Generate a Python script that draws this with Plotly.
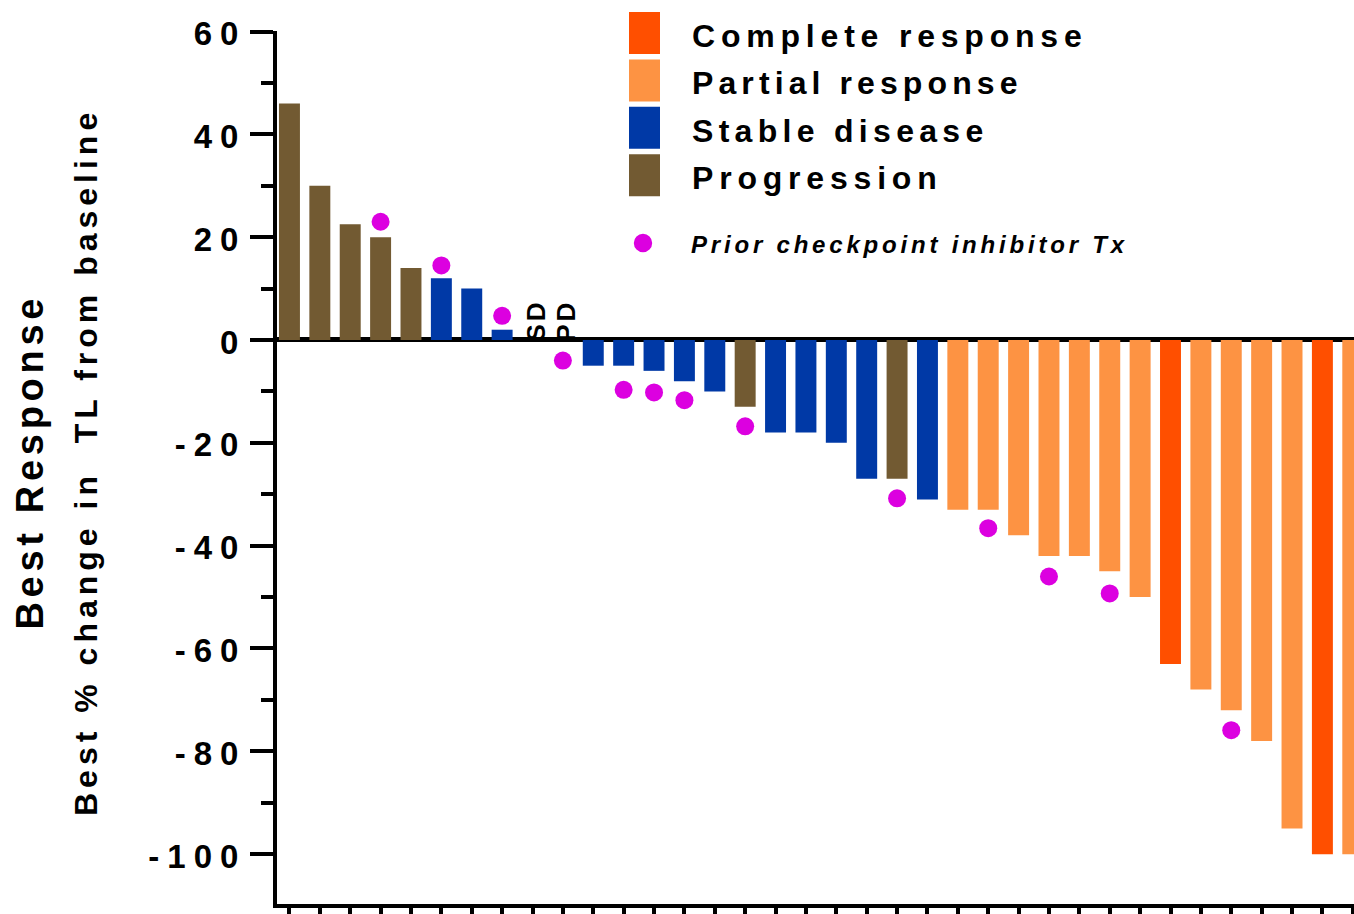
import json
import plotly.graph_objects as go

# ---------------- data ----------------
patients = list(range(1, 37))
best_response = ["PD", "PD", "PD", "PD", "PD", "SD", "SD", "SD", "SD", "PD",
                 "SD", "SD", "SD", "SD", "SD", "PD", "SD", "SD", "SD", "SD",
                 "PD", "SD", "PR", "PR", "PR", "PR", "PR", "PR", "PR", "CR",
                 "PR", "PR", "PR", "PR", "CR", "PR"]
pct_change = [46, 30, 22.5, 20, 14, 12, 10, 2, 0, 0,
              -5, -5, -6, -8, -10, -13, -18, -18, -20, -27,
              -27, -31, -33, -33, -38, -42, -42, -45, -50, -63,
              -68, -72, -78, -95, -100, -100]
# patients with no measurable change, labelled with their response
zero_label_patients = [9, 10]
zero_labels = ["SD", "PD"]

prior_cpi_patients = [4, 6, 8, 10, 12, 13, 14, 16, 21, 24, 26, 28, 32]
prior_cpi_marker_y = [23, 14.5, 4.7, -4, -9.7, -10.2, -11.7, -16.8, -30.8, -36.6, -46, -49.3, -75.9]

legend_codes = ["CR", "PR", "SD", "PD"]
legend_labels = ["Complete response", "Partial response", "Stable disease", "Progression"]
legend_colors = ["#FF4F00", "#FD9343", "#0039A6", "#725A32"]
dot_label = "Prior checkpoint inhibitor Tx"
dot_color = "#DC00E0"

y_tickvals = [60, 40, 20, 0, -20, -40, -60, -80, -100]
y_ticktext = ["60", "40", "20", "0", "-20", "-40", "-60", "-80", "-100"]
y_title_1 = "Best Response"
y_title_2 = "Best % change in  TL from baseline"

# ---------------- layout geometry ----------------
W, H = 1354, 914
L, R, T, B = 277, 0, 31, 10
PW, PH = W - L - R, H - T - B


def px(x):
    return (x - L) / PW


def py(y):
    return (H - B - y) / PH


FONT = "Liberation Sans, Arial, Helvetica, sans-serif"

fig = go.Figure()

for code, label, color in zip(legend_codes, legend_labels, legend_colors):
    xs = [p for p, r, v in zip(patients, best_response, pct_change) if r == code and v != 0]
    ys = [v for p, r, v in zip(patients, best_response, pct_change) if r == code and v != 0]
    fig.add_trace(go.Bar(x=xs, y=ys, name=label, width=0.69,
                         marker=dict(color=color, line=dict(width=0)),
                         showlegend=False, hoverinfo="skip"))

fig.add_trace(go.Scatter(x=prior_cpi_patients, y=prior_cpi_marker_y, mode="markers",
                         name=dot_label, showlegend=False, hoverinfo="skip",
                         marker=dict(color=dot_color, size=18, line=dict(width=0))))

annotations = []
spacing = []

# SD / PD labels on zero-change patients
for p, t in zip(zero_label_patients, zero_labels):
    annotations.append(dict(x=p, y=0, xref="x", yref="y", text=t, textangle=-90,
                            showarrow=False, xanchor="center", yanchor="bottom",
                            xshift=3, yshift=-1,
                            font=dict(family=FONT, size=26, color="black", weight="bold")))
    spacing.append("3px")

# axis titles
annotations.append(dict(x=px(30), y=py(462), xref="paper", yref="paper", text=y_title_1,
                        textangle=-90, showarrow=False, xanchor="center", yanchor="middle",
                        font=dict(family=FONT, size=38, color="black", weight="bold")))
spacing.append("4.7px")
annotations.append(dict(x=px(86), y=py(462), xref="paper", yref="paper", text=y_title_2,
                        textangle=-90, showarrow=False, xanchor="center", yanchor="middle",
                        font=dict(family=FONT, size=32, color="black", weight="bold")))
spacing.append("5px")

# legend (drawn manually to match the large swatches)
legend_spacing = ["5.8px", "5.1px", "5.3px", "5.8px"]
shapes = []
sw_x0, sw_x1 = 629, 660
row_top0, row_pitch, sw_h = 12, 47.4, 42
for i, (label, color) in enumerate(zip(legend_labels, legend_colors)):
    top = row_top0 + i * row_pitch
    shapes.append(dict(type="rect", xref="paper", yref="paper",
                       x0=px(sw_x0), x1=px(sw_x1), y0=py(top + sw_h), y1=py(top),
                       fillcolor=color, line=dict(width=0), layer="above"))
    annotations.append(dict(x=px(690), y=py(top + sw_h / 2 + 3), xref="paper", yref="paper",
                            text=label, showarrow=False, xanchor="left", yanchor="middle",
                            align="left",
                            font=dict(family=FONT, size=32, color="black", weight="bold")))
    spacing.append(legend_spacing[i])

shapes.append(dict(type="circle", xref="paper", yref="paper",
                   x0=px(643 - 9.2), x1=px(643 + 9.2), y0=py(243 + 9.2), y1=py(243 - 9.2),
                   fillcolor=dot_color, line=dict(width=0), layer="above"))
annotations.append(dict(x=px(689), y=py(244), xref="paper", yref="paper", text=dot_label,
                        showarrow=False, xanchor="left", yanchor="middle", align="left",
                        font=dict(family=FONT, size=24, color="black", weight="bold",
                                  style="italic")))
spacing.append("3.8px")

fig.update_layout(
    width=W, height=H,
    margin=dict(l=L, r=R, t=T, b=B, pad=0),
    template="none",
    paper_bgcolor="white", plot_bgcolor="white",
    barmode="overlay",
    showlegend=False,
    annotations=annotations,
    shapes=shapes,
    xaxis=dict(range=[0.59, 36.04], tickmode="array", tickvals=patients,
               showticklabels=False, ticks="outside", ticklen=10, tickwidth=3.5,
               tickcolor="black", showline=True, linewidth=4, linecolor="black",
               showgrid=False, zeroline=False, automargin=False, fixedrange=True),
    yaxis=dict(range=[-109.7, 60.1], tickmode="array", tickvals=y_tickvals,
               ticktext=y_ticktext, ticks="outside", ticklen=23, tickwidth=4,
               tickcolor="black", showline=True, linewidth=4, linecolor="black",
               showgrid=False, zeroline=True, zerolinewidth=5, zerolinecolor="black",
               tickfont=dict(family=FONT, size=33, color="black", weight="bold"),
               ticklabelstandoff=-3,
               minor=dict(tickmode="linear", tick0=0, dtick=10, ticks="outside",
                          ticklen=12, tickwidth=4, tickcolor="black", showgrid=False),
               automargin=False, fixedrange=True),
)

post = """
document.body.style.margin = '0';
document.body.style.overflow = 'hidden';
var gd = document.getElementById('{plot_id}');
var LS = %s;
gd.querySelectorAll('g.ytick').forEach(function(g){
  g.setAttribute('transform', 'translate(0,2)');
  var t = g.querySelector('text');
  if (t) { t.style.letterSpacing = '8px'; }
});
gd.querySelectorAll('g.annotation').forEach(function(g){
  var i = parseInt(g.getAttribute('data-index'));
  var t = g.querySelector('text');
  if (t && LS[i]) { t.style.letterSpacing = LS[i]; }
});
""" % json.dumps(spacing)

fig.write_html("out.html", post_script=post, config={"displayModeBar": False})
